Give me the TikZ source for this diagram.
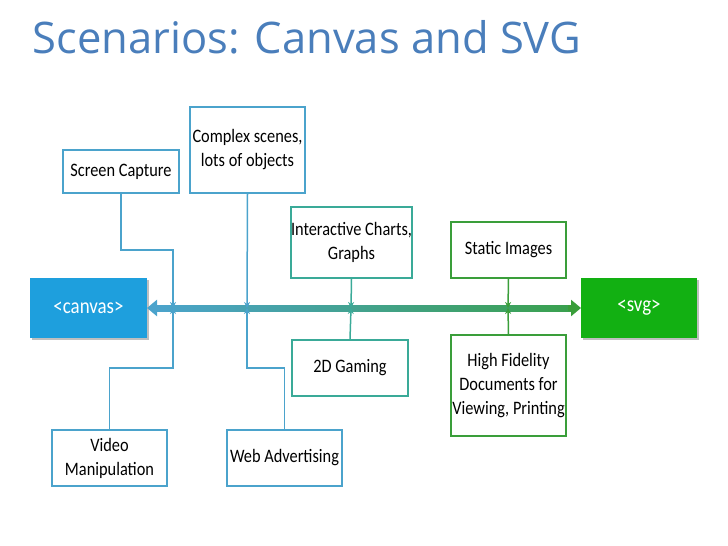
\documentclass[tikz,border=0pt]{standalone}
\usepackage{fontspec}
\setmainfont{Carlito}[FakeStretch=0.86]
\newfontfamily\titlefont{Open Sans}
\usetikzlibrary{arrows.meta,shadows}
\definecolor{tblue}{HTML}{4A7EBB}
\definecolor{bblue}{HTML}{4BA3CC}
\definecolor{bteal}{HTML}{3AAA98}
\definecolor{bgreen}{HTML}{3A9E3A}
\definecolor{cfill}{HTML}{1E9FDD}
\definecolor{sfill}{HTML}{12B012}
\tikzset{
 sbox/.style={draw=#1,line width=1.5pt,fill=white,align=center,font=\fontsize{19}{24}\selectfont,inner sep=0pt},
 conn/.style={draw=#1,line width=1.5pt,-{Stealth[length=6pt,width=6pt]}},
}
\begin{document}
\begin{tikzpicture}[x=1pt,y=-1pt]
\useasboundingbox (0,0) rectangle (728,546);
\node[anchor=base west,text=tblue,font=\titlefont\fontsize{43.5}{48}\selectfont] (title) at (29,53) {Scenarios: Canvas and SVG};
% main boxes
\node[fill=cfill,minimum width=117pt,minimum height=60pt,text=white,font=\fontsize{22}{24}\selectfont,drop shadow] (cv) at (88.5,308) {<canvas>};
\node[fill=sfill,minimum width=116pt,minimum height=60pt,text=white,font=\fontsize{22}{24}\selectfont,drop shadow] (sv) at (639,308) {<svg>};
\shade[left color=bblue,right color=bgreen!80!bteal] (155,305) rectangle (573,311);
\coordinate (al) at (147,308); \coordinate (ar) at (581,308);
\draw[bblue,line width=6pt,{Triangle[length=10pt,width=16pt]}-] (al) -- (160,308);
\draw[bgreen,line width=6pt,-{Triangle[length=10pt,width=16pt]}] (568,308) -- (ar);
% boxes
\node[sbox=bblue,minimum width=116pt,minimum height=43pt] (sc) at (121,171.5) {Screen Capture};
\node[sbox=bblue,minimum width=115pt,minimum height=86pt] (cs) at (247.5,150) {Complex scenes,\\lots of objects};
\node[sbox=bteal,minimum width=115pt,minimum height=71pt] (ic) at (351.5,242.5) {Interactive Charts,\\Graphs};
\node[sbox=bgreen,minimum width=115pt,minimum height=56pt] (si) at (508.5,250) {Static Images};
\node[sbox=bteal,minimum width=116pt,minimum height=56pt] (gm) at (350,368) {2D Gaming};
\node[sbox=bgreen,minimum width=115pt,minimum height=101pt] (hf) at (508.5,385.5) {High Fidelity\\Documents for\\Viewing, Printing};
\node[sbox=bblue,minimum width=115pt,minimum height=56pt] (vm) at (109.5,458) {Video\\Manipulation};
\node[sbox=bblue,minimum width=115pt,minimum height=56pt] (wa) at (284.5,458) {Web Advertising};
% connectors
\coordinate (p1) at (173,308); \coordinate (p2) at (247,308);
\coordinate (p3) at (351,308); \coordinate (p4) at (508,308);
\draw[conn=bblue] (sc.south) |- (173,250) -- (p1);
\draw[conn=bblue] (vm.north) |- (173,368) -- (p1);
\draw[conn=bblue] (cs.south) -- (p2);
\draw[conn=bblue] (wa.north) |- (247,368) -- (p2);
\draw[conn=bteal] (ic.south) -- (p3);
\draw[conn=bteal] (gm.north) -- (p3);
\draw[conn=bgreen] (si.south) -- (p4);
\draw[conn=bgreen] (hf.north) -- (p4);
\end{tikzpicture}
\end{document}
